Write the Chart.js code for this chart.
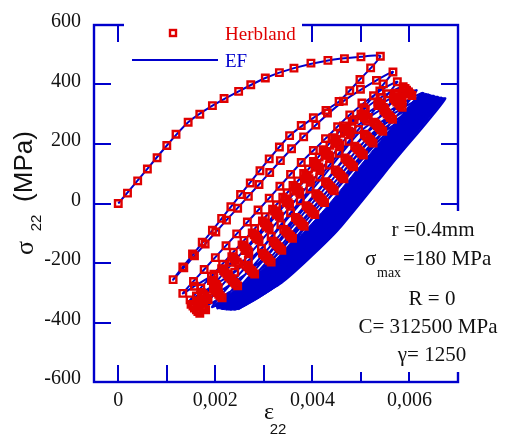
<!DOCTYPE html>
<html>
<head>
<meta charset="utf-8">
<script src="https://cdn.jsdelivr.net/npm/chart.js@4.4.0/dist/chart.umd.min.js"></script>
<style>
  html, body { margin: 0; padding: 0; background: #fff; }
</style>
</head>
<body>
<canvas id="myChart" width="510" height="435"></canvas>
<script>
// strain values are stored in units of 1e-3, stress in MPa

const xTickValues = [0, 1, 2, 3, 4, 5, 6, 7];
const xTickLabels = ['0', '', '0,002', '', '0,004', '', '0,006', ''];
const yTickValues = [-600, -400, -200, 0, 200, 400, 600];
const yTickLabels = ['-600', '-400', '-200', '0', '200', '400', '600'];

// Herbland (squares)
const hbLoad = [[0,0],[0.19,35],[0.40,76],[0.60,116],[0.80,154],[1.00,195],[1.19,233],[1.44,273],[1.68,300],[1.94,329],[2.18,353],[2.48,377],[2.73,399],[3.03,422],[3.32,440],[3.62,455],[3.97,472],[4.32,481],[4.66,487],[5.00,493],[5.40,495]];
const hbUnload1 = [[5.20,456],[4.98,417],[4.77,379],[4.55,343],[4.28,313],[4.02,288],[3.77,262],[3.53,228],[3.32,190],[3.11,150],[2.92,110],[2.72,69],[2.52,30],[2.32,-11],[2.13,-50],[1.94,-90],[1.73,-130],[1.53,-170],[1.33,-213],[1.13,-256]];
const hbReload1 = [[1.35,-216],[1.57,-176],[1.79,-136],[2.01,-96],[2.23,-56],[2.46,-16],[2.68,24],[2.90,64],[3.12,104],[3.34,144],[3.57,184],[3.82,224],[4.07,264],[4.31,304],[4.64,344],[4.99,384],[5.32,414],[5.66,442]];
const hbUnload2 = [[5.46,402],[5.26,362],[5.06,322],[4.86,282],[4.66,242],[4.46,202],[4.26,162],[4.06,122],[3.86,82],[3.66,42],[3.46,2],[3.26,-38],[3.05,-78],[2.85,-118],[2.61,-158],[2.33,-198],[1.97,-238],[1.57,-278],[1.33,-302]];
const hbReload2 = [[1.55,-262],[1.77,-222],[2.00,-182],[2.22,-142],[2.44,-102],[2.66,-62],[2.88,-22],[3.11,18],[3.33,58],[3.55,98],[3.77,138],[4.02,178],[4.27,218],[4.52,258],[4.77,298],[5.02,338],[5.39,378],[5.75,409]];
const hbUnload3 = [[5.55,369],[5.35,329],[5.15,289],[4.95,249],[4.75,209],[4.55,169],[4.35,129],[4.15,89],[3.95,49],[3.75,9],[3.55,-31],[3.35,-71],[3.15,-111],[2.95,-151],[2.68,-191],[2.40,-231],[2.01,-271],[1.61,-311],[1.48,-324]];
const hbReload3 = [[1.70,-284],[1.92,-244],[2.15,-204],[2.37,-164],[2.59,-124],[2.81,-84],[3.03,-44],[3.26,-4],[3.48,36],[3.70,76],[3.92,116],[4.14,156],[4.36,196],[4.58,236],[4.82,276],[5.09,316],[5.43,356],[5.87,393]];
const hbUnload4 = [[5.67,353],[5.47,313],[5.27,273],[5.07,233],[4.87,193],[4.67,153],[4.47,113],[4.27,73],[4.07,33],[3.87,-7],[3.65,-47],[3.41,-87],[3.19,-127],[2.97,-167],[2.63,-207],[2.28,-247],[1.96,-287],[1.62,-327],[1.50,-339]];
const hbReload4 = [[1.71,-299],[1.92,-259],[2.13,-219],[2.34,-179],[2.55,-139],[2.76,-99],[2.97,-59],[3.18,-19],[3.39,21],[3.60,61],[3.82,101],[4.02,141],[4.22,181],[4.42,221],[4.64,261],[5.00,301],[5.35,341],[5.71,371],[5.91,387]];
const hbUnload5 = [[5.71,347],[5.51,307],[5.31,267],[5.11,227],[4.91,187],[4.71,147],[4.51,107],[4.31,67],[4.11,27],[3.91,-13],[3.69,-53],[3.45,-93],[3.23,-133],[3.01,-173],[2.67,-213],[2.32,-253],[2.00,-293],[1.66,-333],[1.54,-345]];
const hbReload5 = [[1.75,-305],[1.96,-265],[2.17,-225],[2.38,-185],[2.59,-145],[2.80,-105],[3.01,-65],[3.22,-25],[3.43,15],[3.64,55],[3.86,95],[4.06,135],[4.26,175],[4.46,215],[4.68,255],[5.04,295],[5.39,335],[5.75,365],[5.94,381]];
const hbUnload6 = [[5.74,341],[5.54,301],[5.34,261],[5.14,221],[4.94,181],[4.74,141],[4.54,101],[4.34,61],[4.14,21],[3.94,-19],[3.72,-59],[3.48,-99],[3.26,-139],[3.04,-179],[2.70,-219],[2.35,-259],[2.03,-299],[1.69,-339],[1.57,-351]];
const hbReload6 = [[1.78,-311],[1.99,-271],[2.20,-231],[2.41,-191],[2.62,-151],[2.83,-111],[3.04,-71],[3.25,-31],[3.46,9],[3.67,49],[3.89,89],[4.09,129],[4.29,169],[4.49,209],[4.71,249],[5.07,289],[5.42,329],[5.78,359],[5.98,375]];
const hbUnload7 = [[5.78,335],[5.58,295],[5.38,255],[5.18,215],[4.98,175],[4.78,135],[4.58,95],[4.38,55],[4.18,15],[3.98,-25],[3.76,-65],[3.52,-105],[3.30,-145],[3.08,-185],[2.74,-225],[2.39,-265],[2.07,-305],[1.73,-345],[1.61,-357]];
const hbReload7 = [[1.82,-317],[2.03,-277],[2.24,-237],[2.45,-197],[2.66,-157],[2.87,-117],[3.08,-77],[3.29,-37],[3.50,3],[3.71,43],[3.93,83],[4.13,123],[4.33,163],[4.53,203],[4.75,243],[5.11,283],[5.46,323],[5.82,353],[6.01,369]];
const hbUnload8 = [[5.81,329],[5.61,289],[5.41,249],[5.21,209],[5.01,169],[4.81,129],[4.61,89],[4.41,49],[4.21,9],[4.01,-31],[3.79,-71],[3.55,-111],[3.33,-151],[3.11,-191],[2.77,-231],[2.42,-271],[2.10,-311],[1.76,-351],[1.64,-363]];
const hbReload8 = [[1.85,-323],[2.06,-283],[2.27,-243],[2.48,-203],[2.69,-163],[2.90,-123],[3.11,-83],[3.32,-43],[3.53,-3],[3.74,37],[3.96,77],[4.16,117],[4.36,157],[4.56,197],[4.78,237],[5.14,277],[5.49,317],[5.85,347],[6.05,363]];
const hbUnload9 = [[5.85,323],[5.65,283],[5.45,243],[5.25,203],[5.05,163],[4.85,123],[4.65,83],[4.45,43],[4.25,3],[4.05,-37],[3.83,-77],[3.59,-117],[3.37,-157],[3.15,-197],[2.81,-237],[2.46,-277],[2.14,-317],[1.80,-357],[1.68,-369]];

// EF (line), one continuous path: first loading, then reload + unload for each cycle
const efLoad = [[0,0],[0.50,97],[1.00,195],[1.44,273],[1.94,329],[2.48,377],[3.03,422],[3.62,455],[4.32,481],[5.00,493],[5.40,495]];
const efUnload1 = [[4.98,417],[4.55,343],[4.02,288],[3.53,228],[3.11,150],[2.52,30],[1.94,-90],[1.33,-213],[1.13,-256]];
const efCycle2 = [[1.57,-176],[2.23,-56],[2.90,64],[3.57,184],[4.07,264],[4.64,344],[5.32,414],[5.66,442],[5.06,322],[4.46,202],[3.86,82],[3.26,-38],[2.85,-118],[2.33,-198],[1.97,-238],[1.57,-278],[1.33,-302]];
const efCycle3 = [[1.77,-222],[2.44,-102],[3.11,18],[3.77,138],[4.27,218],[4.77,298],[5.39,378],[5.75,409],[5.15,289],[4.55,169],[3.95,49],[3.35,-71],[2.95,-151],[2.40,-231],[2.01,-271],[1.61,-311],[1.48,-324]];
const efCycle4 = [[2.59,-124],[3.92,116],[4.60,250],[5.28,343],[5.88,393],[4.88,193],[3.68,-47],[3.09,-169],[2.56,-245],[1.66,-335]];
const efCycle5 = [[2.71,-135],[3.96,105],[4.73,256],[5.43,336],[6.03,386],[5.03,186],[3.83,-54],[3.23,-177],[2.70,-253],[1.80,-343]];
const efCycle6 = [[2.85,-143],[4.10,97],[4.85,250],[5.55,330],[6.15,380],[5.15,180],[3.95,-60],[3.36,-182],[2.83,-258],[1.93,-348]];
const efCycle7 = [[2.98,-148],[4.23,92],[4.98,241],[5.68,321],[6.28,371],[5.28,171],[4.08,-69],[3.47,-186],[2.94,-262],[2.04,-352]];
const efCycle8 = [[3.09,-152],[4.34,88],[5.10,235],[5.80,315],[6.40,365],[5.40,165],[4.20,-75],[3.57,-188],[3.04,-264],[2.14,-354]];
const efCycle9 = [[3.19,-154],[4.44,86],[5.20,231],[5.90,311],[6.50,361],[5.50,161],[4.30,-79],[3.66,-189],[3.13,-265],[2.23,-355]];
const efCycle10 = [[3.28,-155],[4.53,85],[5.28,228],[5.98,308],[6.58,358],[5.58,158],[4.38,-82],[3.74,-190],[3.21,-266],[2.31,-356]];
const efCycle11 = [[3.36,-156],[4.61,84],[5.36,225],[6.06,305],[6.66,355],[5.66,155],[4.46,-85],[3.82,-190],[3.29,-266],[2.39,-356]];
const efCycle12 = [[3.44,-156],[4.69,84],[5.44,223],[6.14,303],[6.74,353],[5.74,153],[4.54,-87],[3.90,-190],[3.37,-266],[2.47,-356]];
// region swept by the densely packed late EF cycles
const efDense = [[6.74,353],[5.74,153],[4.54,-87],[3.90,-190],[3.37,-266],[2.90,-318],[2.47,-356],[2.25,-358],[2.05,-352],[1.98,-340],[2.40,-290],[2.90,-230],[3.30,-180],[3.80,-100],[4.30,-10],[4.80,90],[5.30,190],[5.80,290],[6.10,350],[6.25,372],[6.50,362],[6.74,353]];

const BLUE = '#0000cc';
const RED = '#e00000';
const INK = '#111111';
const SERIF = '"Liberation Serif", "Times New Roman", serif';
const SANS = '"Liberation Sans", Arial, sans-serif';
const TICK = 17;

const toXY = arr => arr.map(p => ({ x: p[0], y: p[1] }));

const hbAll = [].concat(hbLoad, hbUnload1, hbReload1, hbUnload2, hbReload2, hbUnload3, hbReload3,
    hbUnload4, hbReload4, hbUnload5, hbReload5, hbUnload6, hbReload6, hbUnload7, hbReload7,
    hbUnload8, hbReload8, hbUnload9);
const efAll = [].concat(efLoad, efUnload1, efCycle2, efCycle3, efCycle4, efCycle5, efCycle6,
    efCycle7, efCycle8, efCycle9, efCycle10, efCycle11, efCycle12);

// frame, inward ticks, legend, notes and axis titles
const paperPlugin = {
    id: 'paper',
    beforeDatasetsDraw(chart) {
        const { ctx, chartArea: a } = chart;
        const sx = chart.scales.x, sy = chart.scales.y;
        ctx.save();
        ctx.strokeStyle = BLUE;
        ctx.lineWidth = 2;
        ctx.beginPath();
        xTickValues.forEach(v => {
            const px = Math.round(sx.getPixelForValue(v));
            ctx.moveTo(px, a.bottom); ctx.lineTo(px, a.bottom - TICK);
            ctx.moveTo(px, a.top); ctx.lineTo(px, a.top + TICK);
        });
        yTickValues.forEach(v => {
            const py = Math.round(sy.getPixelForValue(v));
            ctx.moveTo(a.left, py); ctx.lineTo(a.left + TICK, py);
            ctx.moveTo(a.right, py); ctx.lineTo(a.right - TICK, py);
        });
        ctx.stroke();
        ctx.lineWidth = 2.4;
        ctx.strokeRect(a.left, a.top, a.right - a.left, a.bottom - a.top);
        // white boxes behind legend and note (they hide frame parts, not data)
        ctx.fillStyle = '#ffffff';
        ctx.fillRect(124, 20, 178, 48);
        ctx.fillRect(352, 211, 158, 161);
        ctx.restore();
    },
    afterDraw(chart) {
        const ctx = chart.ctx;
        ctx.save();
        // legend
        ctx.strokeStyle = RED;
        ctx.lineWidth = 2.4;
        ctx.strokeRect(173 - 3, 33 - 3, 6, 6);
        ctx.font = '19px ' + SERIF;
        ctx.textAlign = 'left';
        ctx.textBaseline = 'alphabetic';
        ctx.fillStyle = RED;
        ctx.fillText('Herbland', 225, 40);
        ctx.strokeStyle = BLUE;
        ctx.lineWidth = 2;
        ctx.beginPath();
        ctx.moveTo(132, 60); ctx.lineTo(218, 60);
        ctx.stroke();
        ctx.fillStyle = BLUE;
        ctx.fillText('EF', 225, 67);

        // notes
        ctx.fillStyle = INK;
        ctx.font = '21px ' + SERIF;
        ctx.textAlign = 'center';
        ctx.fillText('r =0.4mm', 433, 236);
        ctx.fillText('R = 0', 432, 305);
        ctx.fillText('C= 312500 MPa', 428, 333);
        ctx.fillText('\u03b3= 1250', 432, 361);
        ctx.textAlign = 'left';
        ctx.fillText('\u03c3', 365, 265);
        ctx.fillText('=180 MPa', 403, 265);
        ctx.font = '14px ' + SERIF;
        ctx.fillText('max', 377, 277);

        // x title
        ctx.font = '24px ' + SERIF;
        ctx.textAlign = 'center';
        ctx.fillText('\u03b5', 269, 419);
        ctx.font = '15px ' + SANS;
        ctx.fillText('22', 278, 434);

        // y title (rotated)
        ctx.translate(27, 200);
        ctx.rotate(-Math.PI / 2);
        ctx.font = '26px ' + SERIF;
        ctx.fillText('\u03c3', -48, 6);
        ctx.font = '15px ' + SANS;
        ctx.fillText('22', -23, 14);
        ctx.font = '26px ' + SANS;
        ctx.fillText('(MPa)', 33.5, 5);
        ctx.restore();
    }
};

Chart.defaults.font.family = SERIF;

const myChart = new Chart(document.getElementById('myChart'), {
    type: 'scatter',
    data: {
        datasets: [{
            label: 'Herbland',
            data: toXY(hbAll),
            showLine: false,
            pointStyle: 'rect',
            pointRadius: 4.6,
            pointBorderWidth: 2.4,
            pointBorderColor: RED,
            pointBackgroundColor: 'rgba(0,0,0,0)',
            order: 0
        }, {
            label: 'EF',
            data: toXY(efAll),
            showLine: true,
            borderColor: BLUE,
            borderWidth: 2,
            pointRadius: 0,
            tension: 0.2,
            order: 1
        }, {
            label: 'EF dense',
            data: toXY(efDense),
            showLine: true,
            fill: 'shape',
            backgroundColor: BLUE,
            borderColor: BLUE,
            borderWidth: 1,
            pointRadius: 0,
            tension: 0.2,
            order: 2
        }]
    },
    options: {
        responsive: false,
        animation: false,
        events: [],
        layout: { padding: { left: 0, right: 52, top: 18, bottom: 0 } },
        plugins: {
            legend: { display: false },
            tooltip: { enabled: false }
        },
        scales: {
            x: {
                type: 'linear',
                min: -0.5,
                max: 7,
                afterBuildTicks: s => { s.ticks = xTickValues.map(v => ({ value: v })); },
                afterFit: s => { s.height = 53; },
                grid: { display: false, drawTicks: false },
                border: { display: false },
                ticks: {
                    autoSkip: false,
                    maxRotation: 0,
                    padding: 7,
                    color: INK,
                    font: { family: SERIF, size: 20 },
                    callback: (v, i) => xTickLabels[i]
                }
            },
            y: {
                type: 'linear',
                min: -600,
                max: 600,
                afterBuildTicks: s => { s.ticks = yTickValues.map(v => ({ value: v })); },
                afterFit: s => { s.width = 94; },
                grid: { display: false, drawTicks: false },
                border: { display: false },
                ticks: {
                    autoSkip: false,
                    padding: 13,
                    labelOffset: -3,
                    color: INK,
                    font: { family: SERIF, size: 20 },
                    callback: (v, i) => yTickLabels[i]
                }
            }
        }
    },
    plugins: [paperPlugin]
});
</script>
</body>
</html>
